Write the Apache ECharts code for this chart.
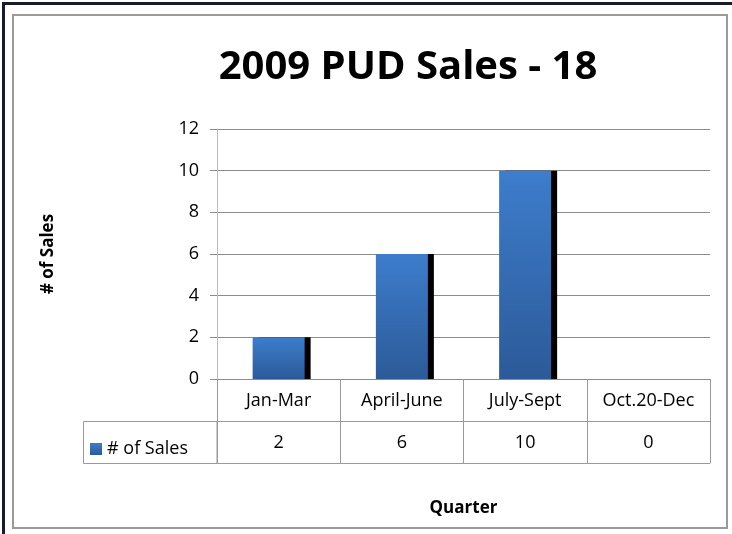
<!DOCTYPE html>
<html>
<head>
<meta charset="utf-8">
<script src="https://cdn.jsdelivr.net/npm/echarts@6/dist/echarts.min.js"></script>
<style>
  html, body { margin: 0; padding: 0; background: #fff; }
  #chart { width: 732px; height: 534px; }
</style>
</head>
<body>
<div id="chart"></div>
<script>
// data
const categories = ['Jan-Mar', 'April-June', 'July-Sept', 'Oct.20-Dec'];
const sales = [2, 6, 10, 0];
const seriesName = '# of Sales';
const titleText = '2009 PUD Sales - 18';
const yName = '# of Sales';
const xName = 'Quarter';

// plot area in px
const gLeft = 217, gRight = 710, gTop = 129, gBottom = 379;
const rowH = 42;
const font = 'Open Sans';

const chart = echarts.init(document.getElementById('chart'));

const barColor = new echarts.graphic.LinearGradient(0, 0, 0, 1, [
  {offset: 0, color: '#3d7dcc'},
  {offset: 1, color: '#2c5a98'}
]);

const option = {
  backgroundColor: '#fff',
  animation: false,
  title: {
    text: titleText,
    left: 403,
    textAlign: 'center',
    top: 43,
    textStyle: {fontFamily: font, fontWeight: 'bold', fontSize: 40, color: '#000'}
  },
  legend: {
    data: [seriesName],
    left: 85,
    top: 435,
    icon: 'rect',
    itemWidth: 12,
    itemHeight: 12,
    itemGap: 5,
    itemStyle: {shadowColor: 'rgba(0,0,0,0)', shadowOffsetX: 0, shadowOffsetY: 0},
    textStyle: {fontFamily: font, fontSize: 18, color: '#000'}
  },
  grid: {
    left: gLeft,
    right: 732 - gRight,
    top: gTop,
    bottom: 534 - gBottom,
    containLabel: false
  },
  xAxis: [
    {
      type: 'category',
      data: categories,
      axisLine: {show: true, lineStyle: {color: '#8c8c8c'}},
      axisTick: {show: true, interval: 0, length: rowH * 2, lineStyle: {color: '#9a9a9a'}},
      axisLabel: {margin: 13, interval: 0, fontFamily: font, fontSize: 18, color: '#000'},
      name: xName,
      nameLocation: 'middle',
      nameGap: 121,
      nameTextStyle: {fontFamily: font, fontWeight: 'bold', fontSize: 17, color: '#000'}
    },
    {
      type: 'category',
      data: categories,
      position: 'bottom',
      offset: rowH,
      axisLine: {show: true, lineStyle: {color: '#9a9a9a'}},
      axisTick: {show: false},
      axisLabel: {
        margin: 13, interval: 0, fontFamily: font, fontSize: 18, color: '#000',
        formatter: (v, i) => String(sales[i])
      }
    },
    {
      type: 'category',
      data: categories,
      position: 'bottom',
      offset: rowH * 2,
      axisLine: {show: true, lineStyle: {color: '#9a9a9a'}},
      axisTick: {show: false},
      axisLabel: {show: false}
    }
  ],
  yAxis: {
    type: 'value',
    min: 0,
    max: 12,
    interval: 2,
    axisLine: {show: true, lineStyle: {color: '#bbbbbb'}},
    axisTick: {show: true, length: 7, lineStyle: {color: '#8c8c8c'}},
    axisLabel: {margin: 18, fontFamily: font, fontSize: 18, color: '#000'},
    splitLine: {lineStyle: {color: '#8c8c8c'}},
    name: yName,
    nameLocation: 'middle',
    nameGap: 160,
    nameRotate: 90,
    nameTextStyle: {fontFamily: font, fontWeight: 'bold', fontSize: 17, color: '#000'}
  },
  series: [
    {
      name: seriesName,
      type: 'bar',
      data: sales,
      barWidth: 52,
      itemStyle: {
        color: barColor,
        shadowColor: '#000',
        shadowBlur: 0,
        shadowOffsetX: 6,
        shadowOffsetY: 0
      }
    }
  ],
  graphic: [
    // outer dark frame (top and left only)
    {type: 'rect', shape: {x: 2, y: 2, width: 730, height: 3}, style: {fill: '#151c30'}, silent: true},
    {type: 'rect', shape: {x: 2, y: 2, width: 3, height: 532}, style: {fill: '#151c30'}, silent: true},
    // inner gray border
    {type: 'rect', shape: {x: 13, y: 15, width: 714, height: 513},
      style: {fill: 'none', stroke: '#9a9a9a', lineWidth: 2}, silent: true},
    // legend cell of the data table
    {type: 'rect', shape: {x: 83.5, y: gBottom + rowH + 0.5, width: gLeft - 83.5, height: rowH},
      style: {fill: 'none', stroke: '#9a9a9a', lineWidth: 1}, silent: true}
  ]
};

chart.setOption(option);
</script>
</body>
</html>
